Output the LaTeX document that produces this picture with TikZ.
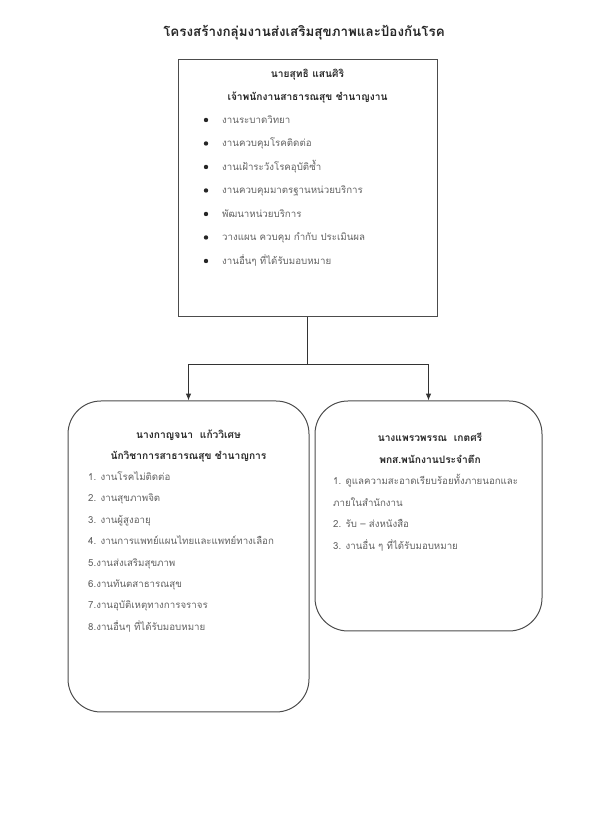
\documentclass[tikz,border=0pt]{standalone}
\usepackage{fontspec}
\setmainfont[Script=Thai]{Loma}
\usepackage{tikz}
\usetikzlibrary{arrows.meta,positioning,calc}
\tikzset{
  box/.style={draw=black!70, line width=1pt, inner sep=0pt},
  rbox/.style={box, rounded corners=33pt},
  headtxt/.style={font=\bfseries\fontsize{10.2}{12}\selectfont, text=black!85, inner sep=1pt},
  item/.style={font=\fontsize{9.7}{12}\selectfont, text=black!62, anchor=west, inner sep=0pt,
    text height=7pt, text depth=2pt},
  line/.style={draw=black!80, line width=0.8pt},
  arrow/.style={line, -{Latex[length=2.4mm, width=1.9mm]}}
}

\begin{document}
\begin{tikzpicture}[x=1pt, y=1pt]
  \useasboundingbox (0,0) rectangle (594,840);
  \node[font=\bfseries\fontsize{13.4}{16}\selectfont, text=black!85] (title) at (304,807) {โครงสร้างกลุ่มงานส่งเสริมสุขภาพและป้องกันโรค};

  % head of group
  \node[box, minimum width=259pt, minimum height=257pt] (head) at (307.5,651.5) {};
  \node[headtxt, below=15pt of head.north, anchor=center] (hname) {นายสุทธิ แสนศิริ};
  \node[headtxt, below=23pt of hname.center, anchor=center] (hpos) {เจ้าพนักงานสาธารณสุข ชำนาญงาน};
  \node[item] (b1) at (222,719) {งานระบาดวิทยา};
  \node[item, below=23.5pt of b1.west, anchor=west] (b2) {งานควบคุมโรคติดต่อ};
  \node[item, below=23.5pt of b2.west, anchor=west] (b3) {งานเฝ้าระวังโรคอุบัติซ้ำ};
  \node[item, below=23.5pt of b3.west, anchor=west] (b4) {งานควบคุมมาตรฐานหน่วยบริการ};
  \node[item, below=23.5pt of b4.west, anchor=west] (b5) {พัฒนาหน่วยบริการ};
  \node[item, below=23.5pt of b5.west, anchor=west] (b6) {วางแผน ควบคุม กำกับ ประเมินผล};
  \node[item, below=23.5pt of b6.west, anchor=west] (b7) {งานอื่นๆ ที่ได้รับมอบหมาย};
  \foreach \n in {b1,b2,b3,b4,b5,b6,b7}
    \fill[black!85] ([xshift=-16pt,yshift=1pt]\n.west) circle (2.2pt);

  % left unit
  \node[rbox, minimum width=241pt, minimum height=311pt] (left) at (188.5,283.5) {};
  \node[headtxt, below=35pt of left.north, anchor=center] (lname) {นางกาญจนา~ แก้ววิเศษ};
  \node[headtxt, below=21.5pt of lname.center, anchor=center] (lpos) {นักวิชาการสาธารณสุข ชำนาญการ};
  \node[item] (l1) at (88,362) {1. งานโรคไม่ติดต่อ};
  \node[item, below=21.4pt of l1.west, anchor=west] (l2) {2. งานสุขภาพจิต};
  \node[item, below=21.4pt of l2.west, anchor=west] (l3) {3. งานผู้สูงอายุ};
  \node[item, below=21.4pt of l3.west, anchor=west] (l4) {4. งานการแพทย์แผนไทยและแพทย์ทางเลือก};
  \node[item, below=21.4pt of l4.west, anchor=west] (l5) {5.งานส่งเสริมสุขภาพ};
  \node[item, below=21.4pt of l5.west, anchor=west] (l6) {6.งานทันตสาธารณสุข};
  \node[item, below=21.4pt of l6.west, anchor=west] (l7) {7.งานอุบัติเหตุทางการจราจร};
  \node[item, below=21.4pt of l7.west, anchor=west] (l8) {8.งานอื่นๆ ที่ได้รับมอบหมาย};

  % right unit
  \node[rbox, minimum width=227pt, minimum height=230pt] (right) at (428.5,324) {};
  \node[headtxt, below=37pt of right.north, anchor=center, xshift=1.5pt] (rname) {นางแพรวพรรณ~ เกตศรี};
  \node[headtxt, below=22pt of rname.center, anchor=center] (rpos) {พกส.พนักงานประจำตึก};
  \node[item] (r1) at (333,358) {1. ดูแลความสะอาดเรียบร้อยทั้งภายนอกและ};
  \node[item, below=21.6pt of r1.west, anchor=west] (r1b) {ภายในสำนักงาน};
  \node[item, below=21.6pt of r1b.west, anchor=west] (r2) {2. รับ – ส่งหนังสือ};
  \node[item, below=21.6pt of r2.west, anchor=west] (r3) {3. งานอื่น ๆ ที่ได้รับมอบหมาย};

  % connectors
  \coordinate (split) at ([yshift=-47pt]head.south);
  \coordinate (lsplit) at (left.north |- split);
  \coordinate (rsplit) at (right.north |- split);
  \draw[line] (head.south) -- (split);
  \draw[line] (lsplit) -- (rsplit);
  \draw[arrow] (lsplit) -- (left.north);
  \draw[arrow] (rsplit) -- (right.north);
\end{tikzpicture}
\end{document}
